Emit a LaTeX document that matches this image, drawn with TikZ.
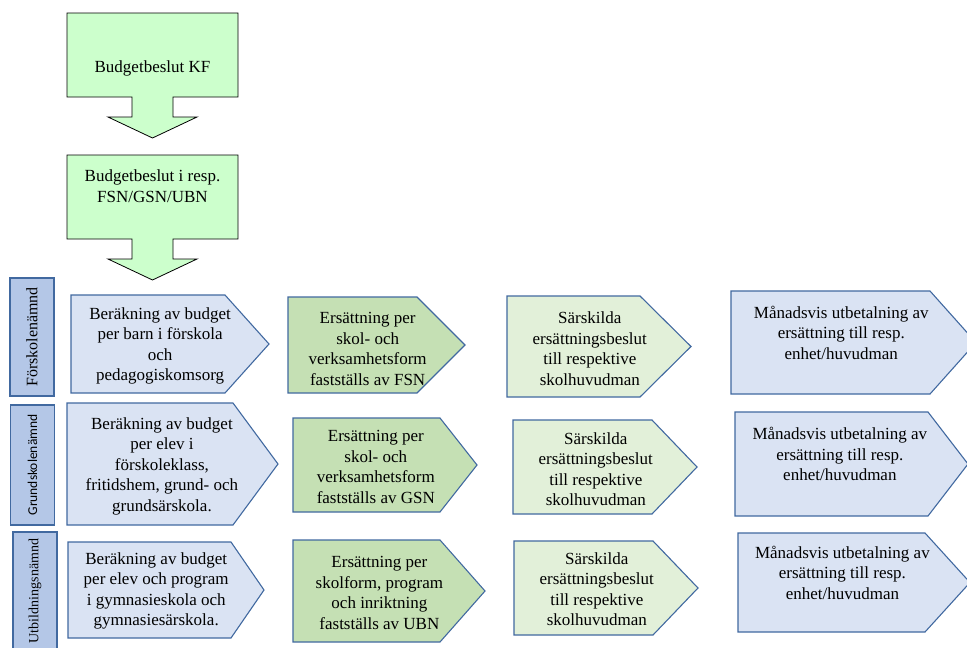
\documentclass[tikz,border=0pt]{standalone}
\usepackage{fontspec}
\setmainfont{Liberation Serif}
\newfontfamily\calibri{Carlito}
\definecolor{bluebox}{RGB}{218,227,243}
\definecolor{greenbox}{RGB}{197,224,180}
\definecolor{palegreen}{RGB}{226,240,217}
\definecolor{sidefill}{RGB}{180,199,231}
\definecolor{edgeblue}{RGB}{65,105,160}
\definecolor{mint}{RGB}{204,255,204}
\tikzset{
  pentbox/.style={draw=edgeblue, line width=1.1pt},
  boxtext/.style={align=center, inner sep=0pt, font=\fontsize{17}{20.5}\selectfont},
  sidebox/.style={draw=edgeblue, line width=1.1pt, fill=sidefill, rotate=90, inner sep=0pt, minimum height=44pt},
  callout/.style={draw=black, line width=0.8pt, fill=mint}
}
\begin{document}
\begin{tikzpicture}[x=1pt, y=-1pt]
  \useasboundingbox (0,0) rectangle (967,648);
  \clip (0,0) rectangle (967,648);

  % budget decisions
  \foreach \nm/\yt/\ty/\txt in {kf/13/68/{Budgetbeslut KF}, resp/155/186/{Budgetbeslut i resp.\\FSN/GSN/UBN}}
  {
    \draw[callout] (67,\yt) -- (238,\yt) -- (238,\yt+84) -- (173,\yt+84) -- (173,\yt+104) -- (197,\yt+104)
      -- (152.5,\yt+125) -- (108,\yt+104) -- (132,\yt+104) -- (132,\yt+84) -- (67,\yt+84) -- cycle;
    \node[boxtext] (\nm) at (152.5,\ty) {\txt};
  }

  % committees
  \node[sidebox, minimum width=118pt, font=\fontsize{16}{19}\selectfont] (fsn) at (32,337) {Förskolenämnd};
  \node[sidebox, minimum width=120pt, font=\calibri\fontsize{13.5}{16}\selectfont] (gsn) at (32.5,465) {Grundskolenämnd};
  \node[sidebox, minimum width=118pt, font=\fontsize{14}{17}\selectfont] (ubn) at (35,591) {Utbildningsnämnd};

  % process steps
  \foreach \nm/\xa/\xb/\xt/\ya/\yb/\col/\dy/\txt in {
    fsnBer/71/225/269/295/393/bluebox/2/{Beräkning av budget\\per barn i förskola\\och\\pedagogiskomsorg},
    fsnErs/288/417/465/297/393/greenbox/4/{Ersättning per\\skol- och\\verksamhetsform\\fastställs av FSN},
    fsnSar/507/640/691/296/397/palegreen/2/{Särskilda\\ersättningsbeslut\\till respektive\\skolhuvudman},
    fsnMan/731/930/976/291/394/bluebox/-10/{Månadsvis utbetalning av\\ersättning till resp.\\enhet/huvudman},
    gsnBer/67/233/278/403/525/bluebox/2/{Beräkning av budget\\per elev i\\förskoleklass,\\fritidshem, grund- och\\grundsärskola.},
    gsnErs/293/440/477/418/512/greenbox/2/{Ersättning per\\skol- och\\verksamhetsform\\fastställs av GSN},
    gsnSar/513/652/697/420/514/palegreen/2/{Särskilda\\ersättningsbeslut\\till respektive\\skolhuvudman},
    gsnMan/735/928/968/412/516/bluebox/-10/{Månadsvis utbetalning av\\ersättning till resp.\\enhet/huvudman},
    ubnBer/68/231/264/542/638/bluebox/1/{Beräkning av budget\\per elev och program\\i gymnasieskola och\\gymnasiesärskola.},
    ubnErs/293/440/485/540/642/greenbox/2/{Ersättning per\\skolform, program\\och inriktning\\fastställs av UBN},
    ubnSar/514/653/698/541/635/palegreen/1/{Särskilda\\ersättningsbeslut\\till respektive\\skolhuvudman},
    ubnMan/738/925/970/533/632/bluebox/-10/{Månadsvis utbetalning av\\ersättning till resp.\\enhet/huvudman}}
  {
    \draw[pentbox, fill=\col] (\xa,\ya) -- (\xb,\ya) -- (\xt,{(\ya+\yb)/2}) -- (\xb,\yb) -- (\xa,\yb) -- cycle;
    \node[boxtext] (\nm) at ({\xa+0.45*(\xt-\xa)},{(\ya+\yb)/2+\dy}) {\txt};
  }
\end{tikzpicture}
\end{document}
